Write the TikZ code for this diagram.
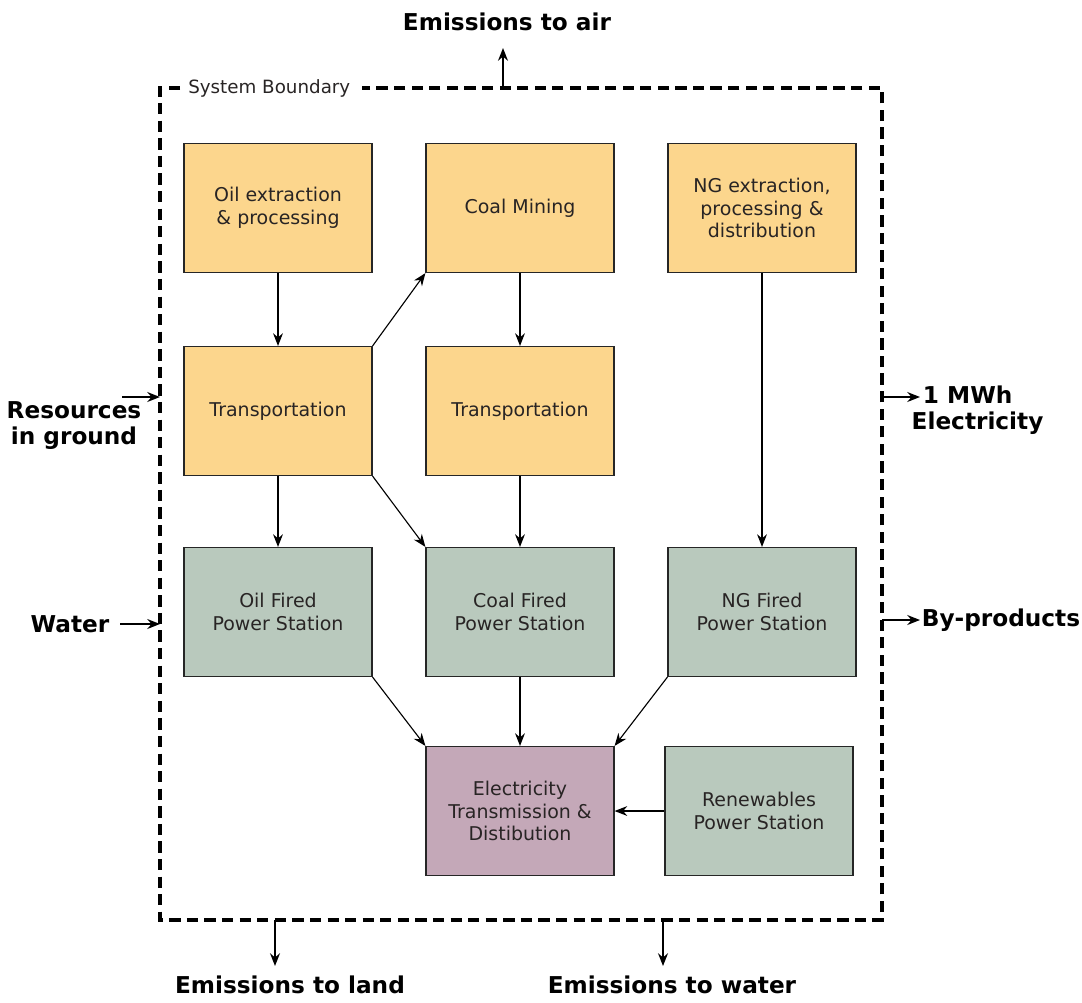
\documentclass[tikz,border=0pt]{standalone}
\usepackage{fontspec}
\setmainfont{DejaVu Sans}
\usepackage{tikz}
\usetikzlibrary{arrows.meta,positioning}
\definecolor{fuelorange}{RGB}{252,214,141}
\definecolor{plantgreen}{RGB}{185,201,189}
\definecolor{gridmauve}{RGB}{196,168,184}
\definecolor{boxtext}{RGB}{40,36,36}

\begin{document}
\begin{tikzpicture}[
    x=0.025cm, y=-0.025cm,
    font=\fontsize{13.5}{16}\selectfont,
    >={Stealth[length=9pt,width=7pt]},
    box/.style={draw=black!85, thick, align=center, text=boxtext, minimum width=4.7cm, minimum height=3.225cm, inner sep=2pt},
    fuelbox/.style={box, fill=fuelorange},
    plantbox/.style={box, fill=plantgreen},
    gridbox/.style={box, fill=gridmauve},
    flowlabel/.style={font=\fontsize{16.5}{18.5}\selectfont\bfseries, align=center, inner sep=1pt},
    boundary/.style={line width=2.4pt, dash pattern=on 8pt off 4.5pt},
    arrow/.style={->, thick},
    outarrow/.style={->, line width=1.5pt}
]
\useasboundingbox (0,0) rectangle (1082,1002);

% ===================== SYSTEM BOUNDARY =====================
\draw[boundary] (180,88) -- (160,88) -- (160,920) -- (882,920) -- (882,88) -- (362,88);
\node[anchor=west, inner sep=0pt, font=\fontsize{13}{15}\selectfont, text=boxtext] (sysbound) at (188,88) {System Boundary};

% ===================== FUEL SUPPLY =====================
\node[fuelbox] (oilext) at (278,208) {Oil extraction\\\& processing};
\node[fuelbox] (coalmine) at (520,208) {Coal Mining};
\node[fuelbox] (ngext) at (762,208) {NG extraction,\\processing \&\\distribution};

\node[fuelbox] (oiltrans) at (278,411) {Transportation};
\node[fuelbox] (coaltrans) at (520,411) {Transportation};

% ===================== POWER STATIONS =====================
\node[plantbox] (oilplant) at (278,612) {Oil Fired\\Power Station};
\node[plantbox] (coalplant) at (520,612) {Coal Fired\\Power Station};
\node[plantbox] (ngplant) at (762,612) {NG Fired\\Power Station};

\node[gridbox] (grid) at (520,811) {Electricity\\Transmission \&\\Distibution};
\node[plantbox] (renew) at (759,811) {Renewables\\Power Station};

% ===================== FLOWS IN AND OUT =====================
\node[flowlabel] (air) at (507,22) {Emissions to air};
\node[flowlabel] (resources) at (74,426) {Resources\\in ground};
\node[flowlabel] (water) at (70,624) {Water};
\node[flowlabel, anchor=west, align=left] (mwh) at (910,410) {\hspace{8pt}1 MWh\\Electricity};
\node[flowlabel] (byprod) at (1001,620) {By-products};
\node[flowlabel] (land) at (290,985) {Emissions to land};
\node[flowlabel] (towater) at (672,985) {Emissions to water};

\coordinate (airout) at (503,88);
\coordinate (resin) at (160,397);
\coordinate (waterin) at (160,624);
\coordinate (mwhout) at (882,397);
\coordinate (byout) at (882,620);
\coordinate (landout) at (275,920);
\coordinate (waterout) at (663,920);

% ===================== ARROWS =====================
\draw[arrow] (oilext) -- (oiltrans);
\draw[arrow] (oiltrans.north east) -- (coalmine.south west);
\draw[arrow] (coalmine) -- (coaltrans);
\draw[arrow] (ngext) -- (ngplant);

\draw[arrow] (oiltrans) -- (oilplant);
\draw[arrow] (oiltrans.south east) -- (coalplant.north west);
\draw[arrow] (coaltrans) -- (coalplant);

\draw[arrow] (oilplant.south east) -- (grid.north west);
\draw[arrow] (coalplant) -- (grid);
\draw[arrow] (ngplant.south west) -- (grid.north east);
\draw[arrow] (renew) -- (grid);

\draw[outarrow] (airout) -- (503,48);
\draw[outarrow] (122,397) -- (resin);
\draw[outarrow] (120,624) -- (waterin);
\draw[outarrow] (mwhout) -- (920,397);
\draw[outarrow] (byout) -- (920,620);
\draw[outarrow] (landout) -- (275,966);
\draw[outarrow] (waterout) -- (663,966);

\end{tikzpicture}
\end{document}
